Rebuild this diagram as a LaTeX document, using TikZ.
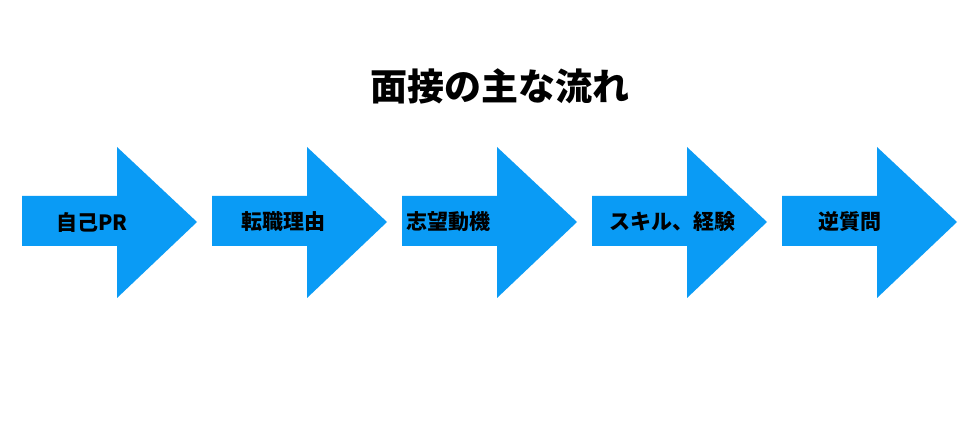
\documentclass[tikz,border=0pt]{standalone}
\usepackage{fontspec}
\setmainfont{Noto Sans CJK JP}
\begin{document}
\begin{tikzpicture}[x=1pt,y=-1pt,
  arr/.style={fill={rgb,255:red,10;green,155;blue,245}},
  lbl/.style={font=\bfseries\fontsize{21}{24}\selectfont,inner sep=0pt}]
\useasboundingbox[fill=white] (0,0) rectangle (980,430);
\node[font=\bfseries\fontsize{37}{40}\selectfont,inner sep=0pt] (title) at (500,86) {面接の主な流れ};
\foreach \i/\x/\c/\t in {0/22/92/自己PR,1/212/283/転職理由,2/402/448/志望動機,3/592/672/スキル、経験,4/782/850/逆質問}{
  \fill[arr] (\x,196) -- (\x+95,196) -- (\x+95,147) -- (\x+175,222) -- (\x+95,298) -- (\x+95,246) -- (\x,246) -- cycle;
  \node[lbl] (l\i) at (\c,222) {\t};
}
\end{tikzpicture}
\end{document}
